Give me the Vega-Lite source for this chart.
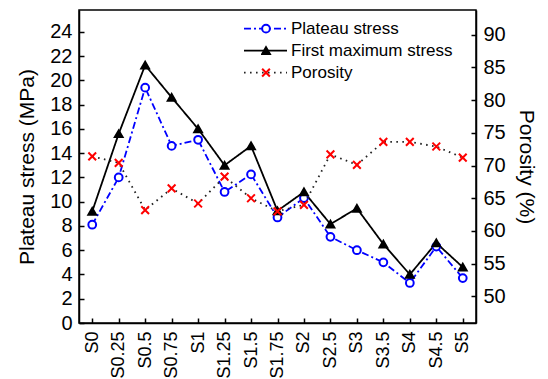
{
  "$schema": "https://vega.github.io/schema/vega-lite/v6.json",
  "width": 397,
  "height": 313,
  "autosize": {"type": "none"},
  "padding": {"left": 79, "top": 10, "right": 72, "bottom": 56},
  "background": "white",
  "config": {
    "font": "Liberation Sans",
    "view": {"stroke": "black", "strokeWidth": 1.5},
    "axis": {
      "grid": false,
      "domainColor": "black",
      "domainWidth": 1.5,
      "tickColor": "black",
      "tickWidth": 1.5,
      "tickSize": -5,
      "labelColor": "black",
      "titleColor": "black",
      "labelFont": "Liberation Sans",
      "titleFont": "Liberation Sans",
      "titleFontWeight": "normal"
    },
    "legend": {"padding": 0, "labelFont": "Liberation Sans", "labelLimit": 400}
  },
  "data": {
    "values": [
      {"sample": "S0", "series": "Plateau stress", "value": 8.1},
      {"sample": "S0.25", "series": "Plateau stress", "value": 12.0},
      {"sample": "S0.5", "series": "Plateau stress", "value": 19.4},
      {"sample": "S0.75", "series": "Plateau stress", "value": 14.6},
      {"sample": "S1", "series": "Plateau stress", "value": 15.1},
      {"sample": "S1.25", "series": "Plateau stress", "value": 10.8},
      {"sample": "S1.5", "series": "Plateau stress", "value": 12.25},
      {"sample": "S1.75", "series": "Plateau stress", "value": 8.7},
      {"sample": "S2", "series": "Plateau stress", "value": 10.3},
      {"sample": "S2.5", "series": "Plateau stress", "value": 7.1},
      {"sample": "S3", "series": "Plateau stress", "value": 6.0},
      {"sample": "S3.5", "series": "Plateau stress", "value": 5.0},
      {"sample": "S4", "series": "Plateau stress", "value": 3.3},
      {"sample": "S4.5", "series": "Plateau stress", "value": 6.3},
      {"sample": "S5", "series": "Plateau stress", "value": 3.7},
      {"sample": "S0", "series": "First maximum stress", "value": 9.2},
      {"sample": "S0.25", "series": "First maximum stress", "value": 15.6},
      {"sample": "S0.5", "series": "First maximum stress", "value": 21.25},
      {"sample": "S0.75", "series": "First maximum stress", "value": 18.6},
      {"sample": "S1", "series": "First maximum stress", "value": 16.0},
      {"sample": "S1.25", "series": "First maximum stress", "value": 13.0},
      {"sample": "S1.5", "series": "First maximum stress", "value": 14.6},
      {"sample": "S1.75", "series": "First maximum stress", "value": 9.25},
      {"sample": "S2", "series": "First maximum stress", "value": 10.8},
      {"sample": "S2.5", "series": "First maximum stress", "value": 8.15},
      {"sample": "S3", "series": "First maximum stress", "value": 9.45},
      {"sample": "S3.5", "series": "First maximum stress", "value": 6.5},
      {"sample": "S4", "series": "First maximum stress", "value": 4.0},
      {"sample": "S4.5", "series": "First maximum stress", "value": 6.6},
      {"sample": "S5", "series": "First maximum stress", "value": 4.6},
      {"sample": "S0", "series": "Porosity", "value": 71.4},
      {"sample": "S0.25", "series": "Porosity", "value": 70.4},
      {"sample": "S0.5", "series": "Porosity", "value": 63.2},
      {"sample": "S0.75", "series": "Porosity", "value": 66.5},
      {"sample": "S1", "series": "Porosity", "value": 64.2},
      {"sample": "S1.25", "series": "Porosity", "value": 68.3},
      {"sample": "S1.5", "series": "Porosity", "value": 65.0},
      {"sample": "S1.75", "series": "Porosity", "value": 63.0},
      {"sample": "S2", "series": "Porosity", "value": 64.0},
      {"sample": "S2.5", "series": "Porosity", "value": 71.7},
      {"sample": "S3", "series": "Porosity", "value": 70.1},
      {"sample": "S3.5", "series": "Porosity", "value": 73.6},
      {"sample": "S4", "series": "Porosity", "value": 73.6},
      {"sample": "S4.5", "series": "Porosity", "value": 72.9},
      {"sample": "S5", "series": "Porosity", "value": 71.2}
    ]
  },
  "encoding": {
    "x": {
      "field": "sample",
      "type": "ordinal",
      "scale": {
        "type": "point",
        "padding": 0.5,
        "domain": ["S0", "S0.25", "S0.5", "S0.75", "S1", "S1.25", "S1.5", "S1.75", "S2", "S2.5", "S3", "S3.5", "S4", "S4.5", "S5"]
      },
      "axis": {"title": null, "labelAngle": 270, "labelFontSize": 18, "labelPadding": 13}
    }
  },
  "layer": [
    {
      "transform": [{"filter": "datum.series !== 'Porosity'"}],
      "encoding": {
        "y": {
          "field": "value",
          "type": "quantitative",
          "scale": {"domain": [0, 25.8], "nice": false, "zero": false},
          "axis": {
            "title": "Plateau stress (MPa)",
            "values": [0, 2, 4, 6, 8, 10, 12, 14, 16, 18, 20, 22, 24],
            "labelFontSize": 20,
            "labelPadding": 12,
            "titleFontSize": 21,
            "titlePadding": 12
          }
        }
      },
      "layer": [
        {
          "mark": {"type": "line", "strokeWidth": 1.8},
          "encoding": {
            "color": {
              "field": "series",
              "type": "nominal",
              "scale": {"domain": ["Plateau stress", "First maximum stress", "Porosity"], "range": ["#0000ff", "#000000", "#222222"]},
              "legend": {
                "orient": "none",
                "legendX": 164,
                "legendY": 8,
                "title": null,
                "symbolType": "stroke",
                "symbolSize": 1849,
                "symbolStrokeWidth": 1.8,
                "clipHeight": 21.3,
                "rowPadding": 0,
                "labelFontSize": 17,
                "labelLimit": 400,
                "labelOffset": 3,
                "labelColor": "black"
              }
            },
            "strokeDash": {
              "field": "series",
              "type": "nominal",
              "scale": {"domain": ["Plateau stress", "First maximum stress", "Porosity"], "range": [[7, 3, 2, 3], [1, 0], [1.6, 4.4]]}
            }
          }
        },
        {
          "mark": {"type": "point", "strokeWidth": 2, "opacity": 1, "size": 60},
          "encoding": {
            "shape": {
              "field": "series",
              "type": "nominal",
              "scale": {"domain": ["Porosity", "Plateau stress", "First maximum stress"], "range": ["M-1,-1L1,1M-1,1L1,-1", "circle", "triangle-up"]},
              "legend": {
                "orient": "none",
                "legendX": 182,
                "legendY": 8,
                "title": null,
                "values": ["Plateau stress", "First maximum stress", "Porosity"],
                "symbolSize": 60,
                "symbolStrokeWidth": 2,
                "clipHeight": 21.3,
                "rowPadding": 0,
                "labelExpr": "''"
              }
            },
            "stroke": {
              "field": "series",
              "type": "nominal",
              "scale": {"domain": ["Porosity", "Plateau stress", "First maximum stress"], "range": ["#ff0000", "#0000ff", "#000000"]}
            },
            "fill": {
              "field": "series",
              "type": "nominal",
              "scale": {"domain": ["Porosity", "Plateau stress", "First maximum stress"], "range": ["transparent", "#ffffff", "#000000"]}
            }
          }
        }
      ]
    },
    {
      "transform": [{"filter": "datum.series === 'Porosity'"}],
      "encoding": {
        "y": {
          "field": "value",
          "type": "quantitative",
          "scale": {"domain": [45.95, 93.75], "nice": false, "zero": false},
          "axis": {
            "orient": "right",
            "title": "Porosity (%)",
            "values": [50, 55, 60, 65, 70, 75, 80, 85, 90],
            "labelFontSize": 20,
            "labelPadding": 12,
            "titleFontSize": 21,
            "titlePadding": 10
          }
        }
      },
      "layer": [
        {
          "mark": {"type": "line", "strokeWidth": 1.8},
          "encoding": {
            "color": {"field": "series", "type": "nominal"},
            "strokeDash": {"field": "series", "type": "nominal"}
          }
        },
        {
          "mark": {"type": "point", "strokeWidth": 2, "opacity": 1, "size": 60},
          "encoding": {
            "shape": {"field": "series", "type": "nominal"},
            "stroke": {"field": "series", "type": "nominal"},
            "fill": {"field": "series", "type": "nominal"}
          }
        }
      ]
    }
  ],
  "resolve": {"scale": {"y": "independent"}}
}
